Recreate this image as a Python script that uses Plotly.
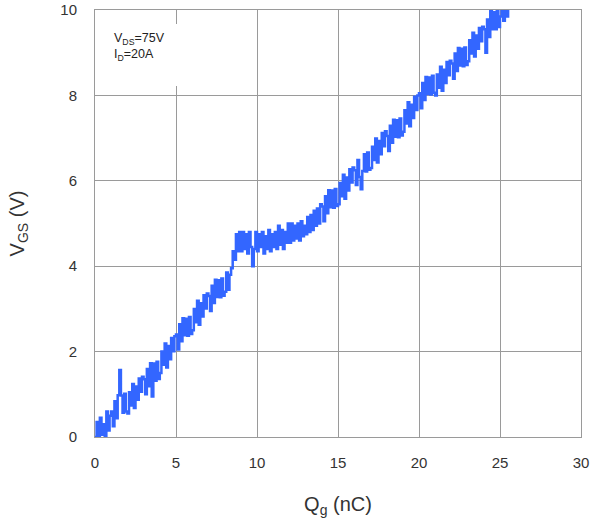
import plotly.graph_objects as go

# Gate charge Qg (nC), sampled every 0.1 nC
qg = [
    0.0, 0.1, 0.2, 0.3, 0.4, 0.5, 0.6, 0.7, 0.8, 0.9,
    1.0, 1.1, 1.2, 1.3, 1.4, 1.5, 1.6, 1.7, 1.8, 1.9,
    2.0, 2.1, 2.2, 2.3, 2.4, 2.5, 2.6, 2.7, 2.8, 2.9,
    3.0, 3.1, 3.2, 3.3, 3.4, 3.5, 3.6, 3.7, 3.8, 3.9,
    4.0, 4.1, 4.2, 4.3, 4.4, 4.5, 4.6, 4.7, 4.8, 4.9,
    5.0, 5.1, 5.2, 5.3, 5.4, 5.5, 5.6, 5.7, 5.8, 5.9,
    6.0, 6.1, 6.2, 6.3, 6.4, 6.5, 6.6, 6.7, 6.8, 6.9,
    7.0, 7.1, 7.2, 7.3, 7.4, 7.5, 7.6, 7.7, 7.8, 7.9,
    8.0, 8.1, 8.2, 8.3, 8.4, 8.5, 8.6, 8.7, 8.8, 8.9,
    9.0, 9.1, 9.2, 9.3, 9.4, 9.5, 9.6, 9.7, 9.8, 9.9,
    10.0, 10.1, 10.2, 10.3, 10.4, 10.5, 10.6, 10.7, 10.8, 10.9,
    11.0, 11.1, 11.2, 11.3, 11.4, 11.5, 11.6, 11.7, 11.8, 11.9,
    12.0, 12.1, 12.2, 12.3, 12.4, 12.5, 12.6, 12.7, 12.8, 12.9,
    13.0, 13.1, 13.2, 13.3, 13.4, 13.5, 13.6, 13.7, 13.8, 13.9,
    14.0, 14.1, 14.2, 14.3, 14.4, 14.5, 14.6, 14.7, 14.8, 14.9,
    15.0, 15.1, 15.2, 15.3, 15.4, 15.5, 15.6, 15.7, 15.8, 15.9,
    16.0, 16.1, 16.2, 16.3, 16.4, 16.5, 16.6, 16.7, 16.8, 16.9,
    17.0, 17.1, 17.2, 17.3, 17.4, 17.5, 17.6, 17.7, 17.8, 17.9,
    18.0, 18.1, 18.2, 18.3, 18.4, 18.5, 18.6, 18.7, 18.8, 18.9,
    19.0, 19.1, 19.2, 19.3, 19.4, 19.5, 19.6, 19.7, 19.8, 19.9,
    20.0, 20.1, 20.2, 20.3, 20.4, 20.5, 20.6, 20.7, 20.8, 20.9,
    21.0, 21.1, 21.2, 21.3, 21.4, 21.5, 21.6, 21.7, 21.8, 21.9,
    22.0, 22.1, 22.2, 22.3, 22.4, 22.5, 22.6, 22.7, 22.8, 22.9,
    23.0, 23.1, 23.2, 23.3, 23.4, 23.5, 23.6, 23.7, 23.8, 23.9,
    24.0, 24.1, 24.2, 24.3, 24.4, 24.5, 24.6, 24.7, 24.8, 24.9,
    25.0, 25.1, 25.2, 25.3, 25.4, 25.5,
]

# Gate-source voltage VGS (V)
vgs = [
    0.0, 0.35, 0.0, 0.45, 0.05, 0.3, 0.0, 0.6, 0.15, 0.5,
    0.6, 0.25, 0.84, 0.44, 0.98, 1.57, 0.97, 0.57, 1.01, 0.6,
    0.55, 1.05, 0.74, 1.24, 0.68, 1.18, 0.87, 1.37, 1.06, 1.41,
    1.35, 1.0, 1.59, 1.19, 1.73, 0.95, 1.72, 1.32, 1.76, 1.36,
    1.5, 2.0, 1.69, 2.19, 1.63, 2.13, 1.82, 2.32, 2.01, 2.36,
    2.4, 2.05, 2.64, 2.24, 2.78, 2.38, 2.77, 2.37, 2.81, 2.41,
    2.5, 3.0, 2.69, 3.19, 2.63, 3.13, 2.82, 3.32, 3.01, 3.36,
    3.3, 2.95, 3.54, 3.14, 3.68, 3.28, 3.67, 3.27, 3.71, 3.31,
    3.4, 3.85, 3.45, 3.8, 3.95, 4.35, 4.15, 4.75, 4.35, 4.8,
    4.35, 4.8, 4.4, 4.75, 4.3, 4.8, 4.45, 4.0, 4.4, 4.8,
    4.35, 4.75, 4.45, 4.8, 4.3, 4.7, 4.4, 4.85, 4.35, 4.75,
    4.45, 4.8, 4.4, 4.95, 4.5, 4.85, 4.4, 4.8, 4.55, 5.0,
    4.55, 5.0, 4.6, 4.95, 4.65, 5.0, 4.6, 5.05, 4.7, 4.95,
    4.75, 5.15, 4.8, 5.2, 4.85, 5.3, 4.95, 5.35, 5.0, 5.45,
    5.4, 5.05, 5.64, 5.24, 5.78, 5.38, 5.77, 5.37, 5.81, 5.41,
    5.45, 5.95, 5.64, 6.14, 5.58, 6.08, 5.77, 6.27, 5.96, 6.31,
    6.25, 5.9, 6.49, 6.09, 5.8, 6.23, 6.62, 6.22, 6.66, 6.26,
    6.3, 6.8, 6.49, 6.99, 6.43, 6.93, 6.62, 7.12, 6.81, 7.16,
    7.05, 6.7, 7.29, 6.89, 7.43, 7.03, 7.42, 7.02, 7.46, 7.06,
    7.15, 7.65, 7.34, 7.84, 7.28, 7.78, 7.47, 7.97, 7.66, 8.0,
    8.05, 7.7, 8.29, 7.89, 8.43, 8.03, 8.42, 8.02, 8.46, 8.06,
    8.0, 8.49, 8.18, 8.67, 8.11, 8.6, 8.29, 8.78, 8.47, 8.81,
    8.75, 8.39, 8.98, 8.57, 9.11, 8.7, 9.09, 8.68, 9.12, 8.71,
    8.8, 9.29, 8.98, 9.47, 8.91, 9.4, 9.09, 9.58, 9.27, 9.61,
    9.55, 9.0, 9.78, 9.37, 10.0, 9.55, 9.95, 9.55, 10.0, 9.6,
    9.85, 10.0, 9.75, 10.0, 9.85, 10.0,
]

x_ticks = [0, 5, 10, 15, 20, 25, 30]
y_ticks = [0, 2, 4, 6, 8, 10]

FONT = "Arial, Liberation Sans, sans-serif"

fig = go.Figure()
fig.add_trace(go.Scatter(
    x=qg, y=vgs, mode="lines",
    line=dict(color="#3366FF", width=2.5, shape="hv"),
    showlegend=False, hoverinfo="skip",
))

axis_font = dict(family=FONT, size=15, color="#333333")

fig.update_layout(
    width=591, height=524,
    margin=dict(l=95, r=10, t=10, b=87),
    paper_bgcolor="white", plot_bgcolor="white",
    xaxis=dict(
        range=[0, 30], tickvals=x_ticks, ticktext=[str(v) for v in x_ticks],
        showgrid=True, gridcolor="#9a9a9a", gridwidth=1,
        showline=True, linecolor="#9a9a9a", linewidth=1, mirror=True,
        zeroline=True, zerolinecolor="#555555", zerolinewidth=1.5,
        ticks="", tickfont=axis_font, ticklabelstandoff=12, automargin=False,
        ticklabeloverflow="allow",
        title=dict(text="Q<sub>g</sub> (nC)", font=dict(family=FONT, size=20, color="#333333"), standoff=26),
    ),
    yaxis=dict(
        range=[0, 10], tickvals=y_ticks, ticktext=[str(v) for v in y_ticks],
        showgrid=True, gridcolor="#9a9a9a", gridwidth=1,
        showline=True, linecolor="#9a9a9a", linewidth=1, mirror=True,
        zeroline=True, zerolinecolor="#555555", zerolinewidth=1.5,
        ticks="", tickfont=axis_font, ticklabelstandoff=14, automargin=False,
        ticklabeloverflow="allow",
        title=dict(text="V<sub>GS</sub> (V)", font=dict(family=FONT, size=20, color="#333333"), standoff=30),
    ),
    shapes=[dict(
        type="rect", xref="x domain", yref="y domain",
        x0=0.004, x1=0.18, y0=0.822, y1=0.967,
        fillcolor="white", line=dict(width=0), layer="above",
    )],
    annotations=[dict(
        text="V<sub>DS</sub>=75V<br>I<sub>D</sub>=20A",
        x=0.034, y=0.955, xref="x domain", yref="y domain", xanchor="left", yanchor="top",
        align="left", showarrow=False,
        font=dict(family=FONT, size=12.5, color="#222222"),
    )],
)

# Remove the default page margin so the 591x524 figure fills the window exactly.
fig.write_html(
    "out.html",
    config={"displayModeBar": False},
    post_script="document.body.style.margin='0';",
)
